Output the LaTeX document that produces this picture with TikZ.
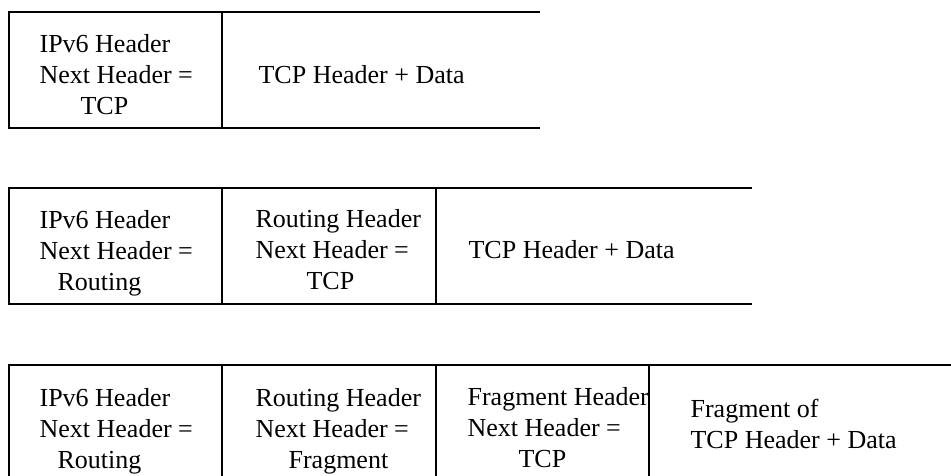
\documentclass[tikz,border=0pt]{standalone}
\usepackage{fontspec}
\setmainfont{Liberation Serif}
\newcommand{\nh}{Next Header =}

\begin{document}
\begin{tikzpicture}[x=1pt,y=-1pt,line width=1.2pt,
   cell/.style={anchor=west,align=left,inner sep=0pt,font=\fontsize{26}{31}\selectfont}]
   \clip (0,0) rectangle (951,476);
   % packet 1
   \draw (540,12) -- (9,12) -- (9,128) -- (540,128);
   \draw (222,12) -- (222,128);
   \node[cell] (ipa)  at (39,75)  {IPv6 Header\\\nh\\\hspace*{41pt}TCP};
   \node[cell] (tcpa) at (258,75) {TCP Header + Data};
   % packet 2
   \draw (752,188) -- (9,188) -- (9,304) -- (752,304);
   \draw (222,188) -- (222,304);
   \draw (436,188) -- (436,304);
   \node[cell] (ipb)  at (39,253)  {IPv6 Header\\\nh\\\hspace*{18pt}Routing};
   \node[cell] (rtb)  at (255,250) {Routing Header\\\nh\\\hspace*{51pt}TCP};
   \node[cell] (tcpb) at (468,250) {TCP Header + Data};
   % packet 3
   \draw (951,365) -- (9,365) -- (9,481) -- (951,481);
   \draw (222,365) -- (222,481);
   \draw (436,365) -- (436,481);
   \draw (649,365) -- (649,481);
   \node[cell] (ipc)  at (39,431)  {IPv6 Header\\\nh\\\hspace*{18pt}Routing};
   \node[cell] (rtc)  at (255,431) {Routing Header\\\nh\\\hspace*{33pt}Fragment};
   \node[cell] (frc)  at (467,428) {Fragment Header\\\nh\\\hspace*{51pt}TCP};
   \node[cell] (tcpc) at (690,424) {Fragment of\\TCP Header + Data};
\end{tikzpicture}
\end{document}
